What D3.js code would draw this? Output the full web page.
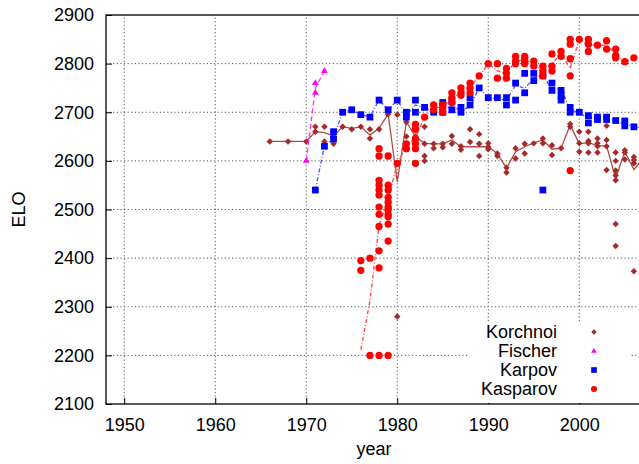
<!DOCTYPE html>
<html>
<head>
<meta charset="utf-8">
<script src="https://cdn.jsdelivr.net/npm/d3@7"></script>
<style>
  body { margin: 0; background: #fff; }
  svg { display: block; font-family: "Liberation Sans", Arial, sans-serif; }
</style>
</head>
<body>
<div id="chart"></div>
<script>
// Ratings, one entry per year: [year, [elo, elo, ...]]
const korchnoiPoints = [
  [1966, [2640]], [1968, [2640]], [1970, [2640]], [1971, [2670, 2660]],
  [1972, [2670, 2640]], [1973, [2650, 2635]], [1974, [2670]], [1975, [2665]],
  [1976, [2670]], [1977, [2665, 2646]], [1978, [2665]], [1979, [2696]],
  [1980, [2695, 2280]], [1981, [2680, 2650]], [1982, [2650]],
  [1983, [2670, 2635, 2610, 2600]], [1984, [2635, 2626]], [1985, [2635, 2628]],
  [1986, [2651, 2635]], [1987, [2630, 2623]], [1988, [2665, 2639]],
  [1989, [2655, 2635, 2610]], [1990, [2636, 2629, 2624]], [1991, [2615, 2610]],
  [1992, [2586, 2576]], [1993, [2626, 2605]], [1994, [2635, 2615]], [1995, [2636]],
  [1996, [2646, 2636]], [1997, [2632, 2612]], [1998, [2626]], [1999, [2676, 2670]],
  [2000, [2660, 2636, 2619]], [2001, [2660, 2641, 2636, 2617]],
  [2002, [2646, 2636, 2630, 2617]], [2003, [2672, 2643, 2630, 2581]],
  [2004, [2617, 2600, 2580, 2570, 2560, 2470, 2425]], [2005, [2622, 2617, 2603]],
  [2006, [2608, 2602, 2595, 2373]], [2007, [2610, 2600]]
];
const fischerPoints = [[1970, [2600]], [1971, [2740, 2760]], [1972, [2785]]];
const karpovPoints = [
  [1971, [2540]], [1972, [2630]], [1973, [2660, 2645]], [1974, [2700]], [1975, [2705]],
  [1976, [2695]], [1977, [2690]], [1978, [2725]], [1979, [2705]], [1980, [2725]],
  [1981, [2700, 2690]], [1982, [2725, 2700]], [1983, [2710]], [1984, [2700]],
  [1985, [2720, 2700]], [1986, [2722, 2705]], [1987, [2710, 2700]], [1988, [2730, 2715]],
  [1989, [2750]], [1990, [2730]], [1991, [2730]], [1992, [2730, 2715]],
  [1993, [2760, 2725]], [1994, [2780, 2740]], [1995, [2780, 2765]], [1996, [2775, 2540]],
  [1997, [2760, 2745]], [1998, [2745, 2735, 2725]], [1999, [2710, 2700]], [2000, [2700]],
  [2001, [2693, 2678]], [2002, [2690, 2685]], [2003, [2690, 2685]], [2004, [2683]],
  [2005, [2682, 2672]], [2006, [2670]], [2007, [2668]]
];
const kasparovPoints = [
  [1976, [2395, 2375]], [1977, [2400, 2200]],
  [1978, [2625, 2610, 2560, 2550, 2540, 2530, 2505, 2490, 2465, 2415, 2380, 2200]],
  [1979, [2610, 2550, 2540, 2525, 2515, 2505, 2500, 2490, 2485, 2470, 2435, 2200]],
  [1980, [2595]], [1981, [2635, 2625]], [1982, [2675, 2665, 2645, 2635, 2625, 2595]],
  [1983, [2690]], [1984, [2715, 2705]], [1985, [2715, 2710, 2700]],
  [1986, [2740, 2730, 2720]], [1987, [2750, 2740, 2735]], [1988, [2760, 2750, 2740]],
  [1989, [2775]], [1990, [2800]], [1991, [2800, 2770]], [1992, [2790, 2780, 2770]],
  [1993, [2815, 2805, 2800]], [1994, [2815, 2810, 2805, 2800]], [1995, [2805, 2795]],
  [1996, [2795, 2785, 2775]], [1997, [2820, 2795, 2785]], [1998, [2825, 2815]],
  [1999, [2850, 2840, 2810, 2775, 2580]], [2000, [2850]], [2001, [2850, 2840, 2825]],
  [2002, [2838]], [2003, [2847, 2830]], [2004, [2830, 2817, 2812]], [2005, [2804]],
  [2006, [2812]]
];

// Yearly trend lines: [year, elo]
const korchnoiLine = [
  [1966, 2640], [1968, 2640], [1970, 2640], [1971, 2660], [1972, 2658], [1973, 2651],
  [1974, 2670], [1975, 2667], [1976, 2670], [1977, 2653], [1978, 2667], [1979, 2696],
  [1980, 2557], [1981, 2680], [1982, 2650], [1983, 2636], [1984, 2635], [1985, 2635],
  [1986, 2643], [1987, 2629], [1988, 2629], [1989, 2629], [1990, 2629], [1991, 2615],
  [1992, 2585], [1993, 2619], [1994, 2629], [1995, 2637], [1996, 2643], [1997, 2624],
  [1998, 2626], [1999, 2674], [2000, 2635], [2001, 2638], [2002, 2631], [2003, 2631],
  [2004, 2564], [2005, 2619], [2006, 2582], [2007, 2605]
];
const fischerLine = [[1970, 2600], [1971, 2750], [1972, 2785]];
const karpovLine = [
  [1971, 2540], [1972, 2631], [1973, 2646], [1974, 2701], [1975, 2705], [1976, 2695],
  [1977, 2691], [1978, 2725], [1979, 2705], [1980, 2725], [1981, 2694], [1982, 2715],
  [1983, 2709], [1984, 2701], [1985, 2708], [1986, 2711], [1987, 2705], [1988, 2711],
  [1989, 2751], [1990, 2730], [1991, 2728], [1992, 2725], [1993, 2756], [1994, 2749],
  [1995, 2770], [1996, 2777], [1997, 2746], [1998, 2749], [1999, 2705], [2000, 2699],
  [2001, 2687], [2002, 2691], [2003, 2687], [2004, 2683], [2005, 2676], [2006, 2670],
  [2007, 2668]
];
const kasparovLine = [
  [1976, 2212], [1977, 2312], [1978, 2468], [1979, 2520], [1980, 2595], [1981, 2630],
  [1982, 2648], [1983, 2690], [1984, 2710], [1985, 2710], [1986, 2730], [1987, 2740],
  [1988, 2750], [1989, 2775], [1990, 2800], [1991, 2785], [1992, 2780], [1993, 2805],
  [1994, 2808], [1995, 2800], [1996, 2785], [1997, 2800], [1998, 2820], [1999, 2790],
  [2000, 2850], [2001, 2838], [2002, 2838], [2003, 2838], [2004, 2820], [2005, 2804],
  [2006, 2812], [2007, 2812]
];

const xTicks = [1950, 1960, 1970, 1980, 1990, 2000];
const yTicks = [2100, 2200, 2300, 2400, 2500, 2600, 2700, 2800, 2900];

// square diamond, like gnuplot's filled diamond point
const squareDiamond = {
  draw(ctx, size) {
    const r = Math.sqrt(size) / 2;
    ctx.moveTo(0, -r); ctx.lineTo(r, 0); ctx.lineTo(0, r); ctx.lineTo(-r, 0);
    ctx.closePath();
  }
};

const series = [
  {name: 'Korchnoi', pts: korchnoiPoints, line: korchnoiLine, color: '#a52a2a',
   lineColor: '#b04848', dash: null, symbol: squareDiamond, size: 42},
  {name: 'Fischer', pts: fischerPoints, line: fischerLine, color: '#ff00ff',
   lineColor: '#ff30ff', dash: '5,3', symbol: d3.symbolTriangle, size: 20},
  {name: 'Karpov', pts: karpovPoints, line: karpovLine, color: '#0000ff',
   lineColor: '#5050ff', dash: '4,2,1,2', symbol: d3.symbolSquare, size: 46},
  {name: 'Kasparov', pts: kasparovPoints, line: kasparovLine, color: '#ff0000',
   lineColor: '#ff4040', dash: '4,2,1,2', symbol: d3.symbolCircle, size: 42}
];

const W = 639, H = 464;
const margin = {top: 15, right: -4, bottom: 60, left: 106};

const svg = d3.select('#chart').append('svg')
  .attr('width', W).attr('height', H);

const x = d3.scaleLinear().domain([1948, 2007]).range([margin.left, W - margin.right]);
const y = d3.scaleLinear().domain([2100, 2900]).range([H - margin.bottom, margin.top]);

// Grid
const grid = svg.append('g').attr('stroke', '#555').attr('stroke-width', 1)
  .attr('stroke-dasharray', '1.2,2.4');
grid.selectAll('.gx').data(xTicks).enter().append('line')
  .attr('x1', d => x(d)).attr('x2', d => x(d))
  .attr('y1', y(2100)).attr('y2', y(2900));
grid.selectAll('.gy').data(yTicks.slice(1, -1)).enter().append('line')
  .attr('x1', x(1948)).attr('x2', x(2007))
  .attr('y1', d => y(d)).attr('y2', d => y(d));

// Axes (gnuplot style: inward ticks, labels outside)
const xAxis = svg.append('g')
  .attr('transform', 'translate(0,' + y(2100) + ')')
  .call(d3.axisBottom(x).tickValues(xTicks).tickFormat(d3.format('d'))
    .tickSizeInner(-6).tickSizeOuter(0).tickPadding(14));
const yAxis = svg.append('g')
  .attr('transform', 'translate(' + x(1948) + ',0)')
  .call(d3.axisLeft(y).tickValues(yTicks).tickFormat(d3.format('d'))
    .tickSizeInner(-6).tickSizeOuter(0).tickPadding(12));
[xAxis, yAxis].forEach(a => {
  a.select('.domain').remove();
  a.selectAll('text').attr('font-size', 18).attr('fill', '#000')
    .attr('font-family', '"Liberation Sans", Arial, sans-serif');
  a.selectAll('line').attr('stroke', '#000');
});

// Border
svg.append('rect')
  .attr('x', x(1948)).attr('y', y(2900))
  .attr('width', x(2007) - x(1948)).attr('height', y(2100) - y(2900))
  .attr('fill', 'none').attr('stroke', '#000').attr('stroke-width', 1.3);

// Clip for data
svg.append('clipPath').attr('id', 'plot').append('rect')
  .attr('x', x(1948)).attr('y', y(2900))
  .attr('width', x(2007) - x(1948) + 4).attr('height', y(2100) - y(2900));

const data = svg.append('g').attr('clip-path', 'url(#plot)');
const line = d3.line().x(d => x(d[0])).y(d => y(d[1]));

series.forEach(s => {
  data.append('path').datum(s.line)
    .attr('d', line)
    .attr('fill', 'none')
    .attr('stroke', s.lineColor)
    .attr('stroke-width', 1.3)
    .attr('stroke-dasharray', s.dash);

  const flat = [];
  s.pts.forEach(([yr, vals]) => vals.forEach(v => flat.push([yr, v])));
  data.selectAll(null).data(flat).enter().append('path')
    .attr('d', d3.symbol().type(s.symbol).size(s.size))
    .attr('transform', d => 'translate(' + x(d[0]) + ',' + y(d[1]) + ')')
    .attr('fill', s.color);
});

// Legend
const legend = svg.append('g');
legend.append('rect')
  .attr('x', 468).attr('y', 322).attr('width', 162).attr('height', y(2100) - 322 - 1)
  .attr('fill', '#fff');
series.forEach((s, i) => {
  const cy = 332 + i * 19;
  legend.append('text')
    .attr('x', 557).attr('y', cy + 6)
    .attr('text-anchor', 'end')
    .attr('font-size', 18)
    .text(s.name);
  legend.append('path')
    .attr('d', d3.symbol().type(s.symbol).size(s.size * 0.7)())
    .attr('transform', 'translate(594,' + cy + ')')
    .attr('fill', s.color);
});

// Axis titles
svg.append('text')
  .attr('x', 374).attr('y', 455)
  .attr('text-anchor', 'middle').attr('font-size', 18)
  .text('year');
svg.append('text')
  .attr('transform', 'translate(25,' + ((y(2100) + y(2900)) / 2) + ') rotate(-90)')
  .attr('text-anchor', 'middle').attr('font-size', 18)
  .text('ELO');

// Caption (cut off at the bottom edge, as in the original)
svg.append('text')
  .attr('x', 333).attr('y', 477)
  .attr('text-anchor', 'middle').attr('font-size', 18)
  .text('(a) ELO (by year)');
</script>
</body>
</html>
